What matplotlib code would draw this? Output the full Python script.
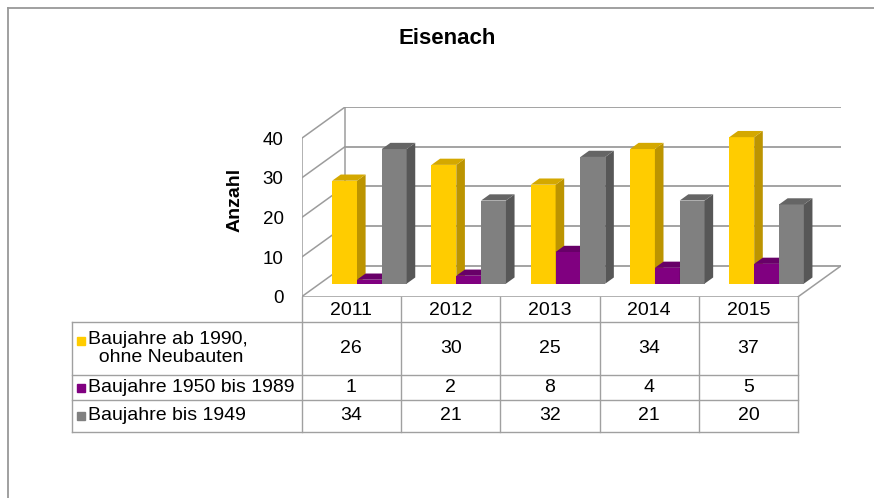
import matplotlib.pyplot as plt
from matplotlib.patches import Polygon
from matplotlib.lines import Line2D

# Daten
jahre = ['2011', '2012', '2013', '2014', '2015']
reihen = ['Baujahre ab 1990,\n  ohne Neubauten', 'Baujahre 1950 bis 1989', 'Baujahre bis 1949']
ab_1990 = [26, 30, 25, 34, 37]
von_1950_bis_1989 = [1, 2, 8, 4, 5]
bis_1949 = [34, 21, 32, 21, 20]
y_ticks = [0, 10, 20, 30, 40]

werte = [ab_1990, von_1950_bis_1989, bis_1949]
# Farben: vorne, Seite, oben
farben = [('#FFCC00', '#BC9400', '#D4A800'),
          ('#800080', '#560056', '#680068'),
          ('#808080', '#575757', '#656565')]
gitter = '#9c9c9c'

plt.rcParams['font.family'] = ['Liberation Sans', 'DejaVu Sans']

W, H = 874, 498
fig = plt.figure(figsize=(W / 100, H / 100), dpi=100)

# Rahmen um das Diagramm
fig.add_artist(Line2D([8 / W, 1], [1 - 8 / H, 1 - 8 / H], color='#999999', lw=1.3))
fig.add_artist(Line2D([7.5 / W, 7.5 / W], [0, 1 - 8 / H], color='#999999', lw=1.3))

fig.text(447 / W, 1 - 38 / H, 'Eisenach', ha='center', va='center',
         fontsize=16, fontweight='bold')

# Geometrie (Pixel)
links = 301.7
boden = 296.7
spalte = 99.3
einheit = 3.96
tx = 43 / spalte      # Tiefe in Kategorien
ty = 31 / einheit     # Tiefe in Werteinheiten
ymax = y_ticks[-1]
n = len(jahre)

ax = fig.add_axes([links / W, (H - boden) / H,
                   (n + tx) * spalte / W, (ymax + ty) * einheit / H])
ax.set_xlim(-0.5, n - 0.5 + tx)
ax.set_ylim(0, ymax + ty)
ax.patch.set_visible(False)
for s in ax.spines.values():
    s.set_visible(False)
ax.set_xticks([])
ax.set_yticks(y_ticks)
ax.tick_params(axis='y', length=0, pad=13, labelsize=13.5)
ax.set_ylabel('Anzahl', fontsize=14, fontweight='bold')
ax.yaxis.set_label_coords(-0.108, 0.51)

# Rueckwand und Seitenwand
for v in y_ticks:
    ax.plot([-0.5 + tx, n - 0.5 + tx], [v + ty, v + ty], color=gitter, lw=1.3, zorder=1)
    ax.plot([-0.5, -0.5 + tx], [v, v + ty], color=gitter, lw=1.1, zorder=1)
ax.plot([-0.5, -0.5], [0, ymax], color=gitter, lw=1.1, zorder=1)
ax.plot([-0.5 + tx, -0.5 + tx], [ty, ymax + ty], color=gitter, lw=1.1, zorder=1)
# Boden
ax.plot([-0.5, n - 0.5], [0, 0], color=gitter, lw=1.1, zorder=1)
ax.plot([n - 0.5, n - 0.5 + tx], [0, ty], color=gitter, lw=1.1, zorder=1)

# 3D-Saeulen
breite = 0.25
f0 = 0.42   # Lage der Saeulen in der Tiefe
d = 0.2     # Tiefe der Saeulen
bx, by = d * tx, d * ty
z = 3
for i in range(n):
    for k in range(len(werte)):
        v = werte[k][i]
        x0 = i + (k - 1.5) * breite + f0 * tx
        x1 = x0 + breite
        b = f0 * ty
        vorne, seite, oben = farben[k]
        ax.add_patch(Polygon([(x0, b), (x1, b), (x1, b + v), (x0, b + v)],
                             closed=True, fc=vorne, ec='none', zorder=z))
        ax.add_patch(Polygon([(x1, b), (x1 + bx, b + by), (x1 + bx, b + v + by), (x1, b + v)],
                             closed=True, fc=seite, ec='none', zorder=z))
        ax.add_patch(Polygon([(x0, b + v), (x1, b + v), (x1 + bx, b + v + by), (x0 + bx, b + v + by)],
                             closed=True, fc=oben, ec='none', zorder=z))
        z += 1

# Datentabelle
tab_links = 72
zeilen = [0, 25.3, 78.3, 103.3, 135]   # Zeilengrenzen in Pixel
tab = fig.add_axes([tab_links / W, (H - boden - zeilen[-1]) / H,
                    (links + n * spalte - tab_links) / W, zeilen[-1] / H])
x_links = -0.5 - (links - tab_links) / spalte
tab.set_xlim(x_links, n - 0.5)
tab.set_ylim(zeilen[-1], 0)
tab.axis('off')

lc = '#a0a0a0'
for j in range(n + 1):
    tab.plot([j - 0.5, j - 0.5], [0, zeilen[-1]], color=lc, lw=1, clip_on=False)
tab.plot([x_links, x_links], [zeilen[1], zeilen[-1]], color=lc, lw=1, clip_on=False)
for yy in zeilen[1:]:
    tab.plot([x_links, n - 0.5], [yy, yy], color=lc, lw=1, clip_on=False)

for j, jahr in enumerate(jahre):
    tab.text(j, (zeilen[0] + zeilen[1]) / 2 + 1.5, jahr, ha='center', va='center', fontsize=14)

for k, name in enumerate(reihen):
    ym = (zeilen[k + 1] + zeilen[k + 2]) / 2
    if '\n' in name:
        y_key = ym - 8
    else:
        y_key = ym
    tab.plot([x_links + 0.092], [y_key], marker='s', ms=5.6, color=farben[k][0],
             ls='none', clip_on=False)
    tab.text(x_links + 0.165, ym, name, ha='left', va='center', fontsize=14,
             linespacing=1.05, multialignment='left')
    for j in range(n):
        tab.text(j, ym, str(werte[k][j]), ha='center', va='center', fontsize=14)

fig.savefig('out.png', dpi=100, facecolor='white')
